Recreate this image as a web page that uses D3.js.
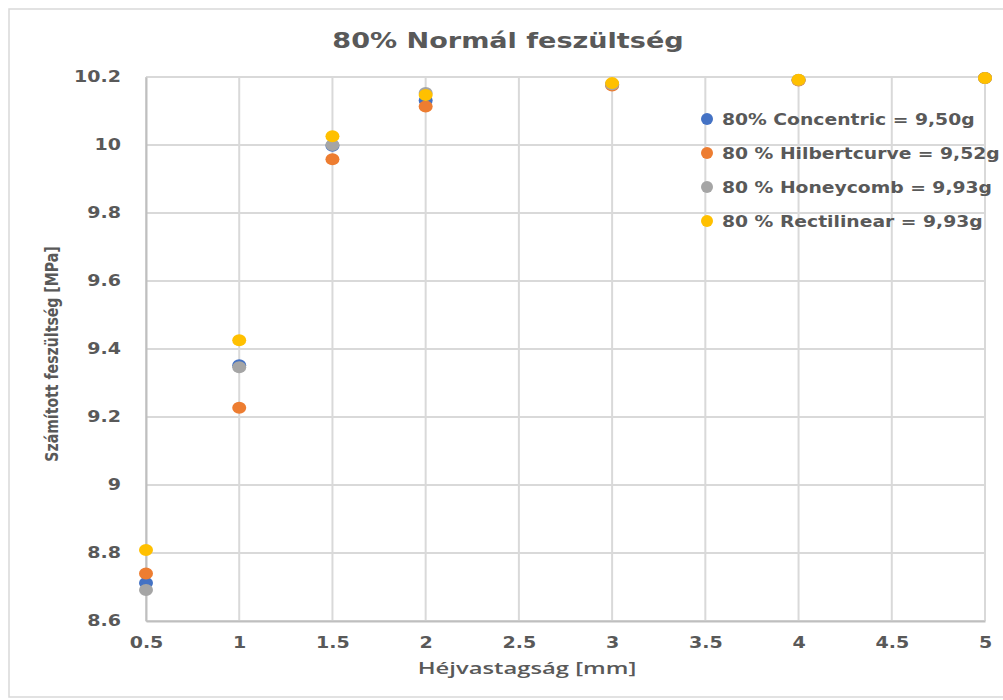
<!DOCTYPE html>
<html>
<head>
<meta charset="utf-8">
<script src="https://cdn.jsdelivr.net/npm/d3@7"></script>
<style>
  body { margin: 0; background: #fff; }
  svg { display: block; }
</style>
</head>
<body>
<div id="chart"></div>
<script>
var width = 1003;
var height = 700;

// data
var thickness = [0.5, 1, 1.5, 2, 3, 4, 5];
var concentric = [8.712, 9.352, 9.998, 10.131, 10.178, 10.191, 10.197];
var hilbert = [8.740, 9.227, 9.958, 10.113, 10.175, 10.190, 10.197];
var honeycomb = [8.691, 9.346, 10.000, 10.153, 10.179, 10.191, 10.197];
var rectilinear = [8.809, 9.426, 10.026, 10.147, 10.182, 10.192, 10.197];

var seriesNames = ["80% Concentric = 9,50g", "80 % Hilbertcurve = 9,52g", "80 % Honeycomb = 9,93g", "80 % Rectilinear = 9,93g"];
var seriesColors = ["#4472C4", "#ED7D31", "#A5A5A5", "#FFC000"];
var xTicks = [0.5, 1, 1.5, 2, 2.5, 3, 3.5, 4, 4.5, 5];
var yTicks = [8.6, 8.8, 9, 9.2, 9.4, 9.6, 9.8, 10, 10.2];

var margin = {top: 77, right: 18, bottom: 79, left: 146};
var font = "'DejaVu Sans', Verdana, sans-serif";

// the reference text is stretched sideways, so scale text horizontally
function stretch(sel, s) {
  sel.each(function() {
    var t = d3.select(this);
    var tx = +t.attr("x") || 0, ty = +t.attr("y") || 0;
    t.attr("x", 0).attr("y", 0)
      .attr("transform", "translate(" + tx + "," + ty + ") scale(" + s + ",1)");
  });
}

var svg = d3.select("#chart")
  .append("svg")
    .attr("width", width)
    .attr("height", height);

svg.append("rect")
  .attr("x", 9).attr("y", 9)
  .attr("width", 1000).attr("height", 688)
  .attr("fill", "#fff")
  .attr("stroke", "#d9d9d9")
  .attr("stroke-width", 1.5);

var x = d3.scaleLinear().domain([0.5, 5]).range([margin.left, width - margin.right]);
var y = d3.scaleLinear().domain([8.6, 10.2]).range([height - margin.bottom, margin.top]);

// gridlines
svg.append("g")
  .selectAll("line")
  .data(yTicks)
  .enter()
  .append("line")
    .attr("x1", x(0.5)).attr("x2", x(5))
    .attr("y1", function(d) {return y(d)}).attr("y2", function(d) {return y(d)})
    .attr("stroke", "#d9d9d9")
    .attr("stroke-width", 2);

svg.append("g")
  .selectAll("line")
  .data(xTicks)
  .enter()
  .append("line")
    .attr("x1", function(d) {return x(d)}).attr("x2", function(d) {return x(d)})
    .attr("y1", y(8.6)).attr("y2", y(10.2))
    .attr("stroke", "#d9d9d9")
    .attr("stroke-width", 2);

// axes
var xAxis = svg.append("g")
  .attr("transform", "translate(0," + y(8.6) + ")")
  .call(d3.axisBottom(x).tickValues(xTicks).tickSize(0).tickPadding(16).tickFormat(d3.format("")));
var yAxis = svg.append("g")
  .attr("transform", "translate(" + x(0.5) + ",0)")
  .call(d3.axisLeft(y).tickValues(yTicks).tickSize(0).tickPadding(25).tickFormat(d3.format("")));

[xAxis, yAxis].forEach(function(a) {
  a.select(".domain").attr("stroke", "#bfbfbf").attr("stroke-width", 2);
  a.selectAll("text")
    .attr("fill", "#595959")
    .style("font-family", font)
    .style("font-weight", "bold")
    .style("font-size", "15px");
  stretch(a.selectAll("text"), 1.27);
});

// points
var series = [concentric, hilbert, honeycomb, rectilinear];
series.forEach(function(vals, i) {
  svg.append("g")
    .selectAll("ellipse")
    .data(vals)
    .enter()
    .append("ellipse")
      .attr("cx", function(d, j) {return x(thickness[j])})
      .attr("cy", function(d) {return y(d)})
      .attr("rx", 7)
      .attr("ry", 6)
      .attr("fill", seriesColors[i]);
});

// title
svg.append("text")
  .attr("x", 508).attr("y", 48)
  .attr("text-anchor", "middle")
  .attr("fill", "#595959")
  .style("font-family", font)
  .style("font-weight", "bold")
  .style("font-size", "21px")
  .text("80% Normál feszültség")
  .call(stretch, 1.29);

svg.append("text")
  .attr("x", 527).attr("y", 674)
  .attr("text-anchor", "middle")
  .attr("fill", "#595959")
  .style("font-family", "'Open Sans', sans-serif")
  .style("font-weight", "600")
  .style("font-size", "17px")
  .text("Héjvastagság [mm]")
  .call(stretch, 1.4);

svg.append("text")
  .attr("transform", "translate(58,354) rotate(-90) scale(0.83,1)")
  .attr("text-anchor", "middle")
  .attr("fill", "#595959")
  .style("font-family", font)
  .style("font-weight", "bold")
  .style("font-size", "17px")
  .text("Számított feszültség [MPa]");

// legend
var legend = svg.append("g")
  .selectAll("g")
  .data(seriesNames)
  .enter()
  .append("g")
    .attr("transform", function(d, i) {return "translate(707," + (119 + i * 34) + ")"});

legend.append("circle")
  .attr("r", 6)
  .attr("fill", function(d, i) {return seriesColors[i]});

legend.append("text")
  .attr("x", 15).attr("y", 6)
  .attr("fill", "#595959")
  .style("font-family", font)
  .style("font-weight", "bold")
  .style("font-size", "15.5px")
  .text(function(d) {return d})
  .call(stretch, 1.21);
</script>
</body>
</html>
